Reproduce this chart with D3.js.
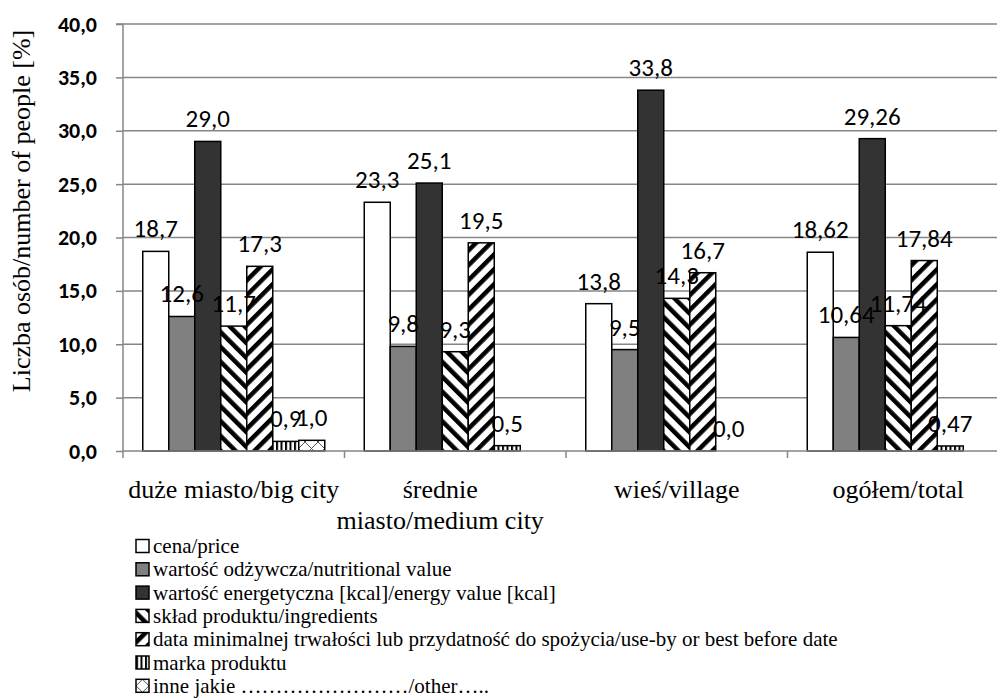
<!DOCTYPE html>
<html><head><meta charset="utf-8">
<script src="https://cdn.jsdelivr.net/npm/d3@7"></script>
<style>body{margin:0;background:#fff}svg{display:block}</style>
</head><body>
<svg id="chart" width="997" height="698"></svg>
<script>
// ---- data ----
const categories = ["duże miasto/big city", "średnie miasto/medium city", "wieś/village", "ogółem/total"];
const categoryLabelLines = [["duże miasto/big city"], ["średnie", "miasto/medium city"], ["wieś/village"], ["ogółem/total"]];
const seriesNames = [
  "cena/price",
  "wartość odżywcza/nutritional value",
  "wartość energetyczna [kcal]/energy value [kcal]",
  "skład produktu/ingredients",
  "data minimalnej trwałości lub przydatność do spożycia/use-by or best before date",
  "marka produktu",
  "inne jakie ……………………/other….."
];
const cena       = [18.7, 23.3, 13.8, 18.62];
const odzywcza   = [12.6, 9.8, 9.5, 10.64];
const energia    = [29.0, 25.1, 33.8, 29.26];
const sklad      = [11.7, 9.3, 14.3, 11.74];
const dataMin    = [17.3, 19.5, 16.7, 17.84];
const marka      = [0.9, 0.5, 0.0, 0.47];
const inne       = [1.0, null, null, null];
const labelDecimals = [1, 1, 1, 2];
const yTicks = [0, 5, 10, 15, 20, 25, 30, 35, 40];
const yTitle = "Liczba osób/number of people [%]";

const seriesValues = [cena, odzywcza, energia, sklad, dataMin, marka, inne];

// ---- setup ----
const SERIF = "Times New Roman", SANS = "Carlito";
const svg = d3.select("#chart");
const plotLeft = 123, groupW = 221.5;
const x0 = d3.scaleBand().domain(categories).range([plotLeft, plotLeft + groupW * categories.length]).padding(0);
const x1 = d3.scaleBand().domain(d3.range(seriesNames.length)).range([19.75, groupW - 19.75]).padding(0);
const y = d3.scaleLinear().domain([0, 40]).range([451, 24]);
const fmt = (v, d) => d3.format("." + d + "f")(v).replace(".", ",");

// patterns
const defs = svg.append("defs");
function stripes(id, angle, period, w, color) {
  const p = defs.append("pattern").attr("id", id).attr("patternUnits", "userSpaceOnUse")
    .attr("width", period).attr("height", period).attr("patternTransform", `rotate(${angle})`);
  p.append("rect").attr("width", period).attr("height", period).attr("fill", "#fff");
  p.append("rect").attr("x", 0).attr("width", w).attr("height", period).attr("fill", color);
}
stripes("pSklad", -45, 10.5, 4.5, "#000");
stripes("pData", 45, 10.5, 4.5, "#000");
stripes("pMarka", 0, 4.5, 2, "#000");
const pi = defs.append("pattern").attr("id", "pInne").attr("patternUnits", "userSpaceOnUse").attr("width", 13).attr("height", 13);
pi.append("rect").attr("width", 13).attr("height", 13).attr("fill", "#fff");
pi.append("path").attr("d", "M0,0L13,13M13,0L0,13").attr("stroke", "#555").attr("stroke-width", 1);

const fills = ["#ffffff", "#808080", "#333333", "url(#pSklad)", "url(#pData)", "url(#pMarka)", "url(#pInne)"];

// gridlines
svg.append("g").selectAll("line").data(yTicks.filter(t => t > 0)).join("line")
  .attr("x1", plotLeft).attr("x2", x0.range()[1]).attr("y1", d => y(d)).attr("y2", d => y(d))
  .attr("stroke", "#868686").attr("stroke-width", 1.5);

// y axis
const yAxis = d3.axisLeft(y).tickValues(yTicks).tickSize(7).tickPadding(26).tickFormat(d => fmt(d, 1));
const gy = svg.append("g").attr("transform", `translate(${plotLeft},0)`).call(yAxis);
gy.attr("font-family", SANS).attr("font-size", 22);
gy.select(".domain").attr("stroke", "#868686").attr("stroke-width", 1.5).attr("d", `M-7,${y(40)}H0V${y(0)}`);
gy.selectAll(".tick line").attr("stroke", "#868686").attr("stroke-width", 1.5);
gy.selectAll(".tick text").attr("dy", null).attr("y", 7).attr("x", -26)
  .attr("font-weight", "bold").attr("fill", "#000");

// bars
const groups = svg.append("g").selectAll("g").data(categories).join("g")
  .attr("transform", d => `translate(${x0(d)},0)`);
groups.each(function (cat, ci) {
  const g = d3.select(this);
  seriesValues.forEach((vals, si) => {
    const v = vals[ci];
    if (v === null || v === undefined) return;
    if (v > 0) {
      g.append("rect").attr("x", x1(si)).attr("width", x1.bandwidth())
        .attr("y", y(v)).attr("height", y(0) - y(v))
        .attr("fill", fills[si]).attr("stroke", "#000").attr("stroke-width", 1.5);
    }
  });
});

// x axis
const gx = svg.append("g");
gx.append("line").attr("x1", plotLeft).attr("x2", x0.range()[1]).attr("y1", y(0)).attr("y2", y(0))
  .attr("stroke", "#868686").attr("stroke-width", 1.5);
gx.selectAll("line.tk").data(d3.range(categories.length + 1)).join("line").attr("class", "tk")
  .attr("x1", i => plotLeft + i * x0.step()).attr("x2", i => plotLeft + i * x0.step())
  .attr("y1", y(0)).attr("y2", y(0) + 7).attr("stroke", "#868686").attr("stroke-width", 1.5);

// value labels
groups.each(function (cat, ci) {
  const g = d3.select(this);
  seriesValues.forEach((vals, si) => {
    const v = vals[ci];
    if (v === null || v === undefined) return;
    g.append("text")
      .attr("x", x1(si) + x1.bandwidth() / 2).attr("y", Math.round(y(v) - 14))
      .attr("text-anchor", "middle").attr("font-family", SANS).attr("font-size", 25)
      .attr("fill", "#000").text(fmt(v, labelDecimals[ci]));
  });
});

// serif texts grouped
const serifG = svg.append("g").attr("font-family", SERIF).attr("fill", "#000");

// category labels
categories.forEach((c, ci) => {
  const lines = categoryLabelLines[ci];
  const cx = x0(c) + x0.bandwidth() / 2 + (lines.length > 1 ? -15 : 0);
  lines.forEach((t, li) => {
    serifG.append("text").attr("x", cx).attr("y", 498 + li * 31)
      .attr("text-anchor", "middle").attr("font-size", 26).text(t);
  });
});

// y title
serifG.append("text").attr("transform", `translate(30,211) rotate(-90)`)
  .attr("text-anchor", "middle").attr("font-size", 26).text(yTitle);

// legend
const leg = svg.append("g").selectAll("g").data(seriesNames).join("g")
  .attr("transform", (d, i) => `translate(136,${546 + i * 23.3})`);
leg.append("rect").attr("x", 0).attr("y", -6.5).attr("width", 13).attr("height", 13)
  .attr("fill", (d, i) => fills[i]).attr("stroke", "#000").attr("stroke-width", 1.5);
leg.append("text").attr("x", 17).attr("y", 7)
  .attr("font-family", SERIF).attr("font-size", 21)
  .attr("fill", "#000").text(d => d);
</script>
</body></html>
